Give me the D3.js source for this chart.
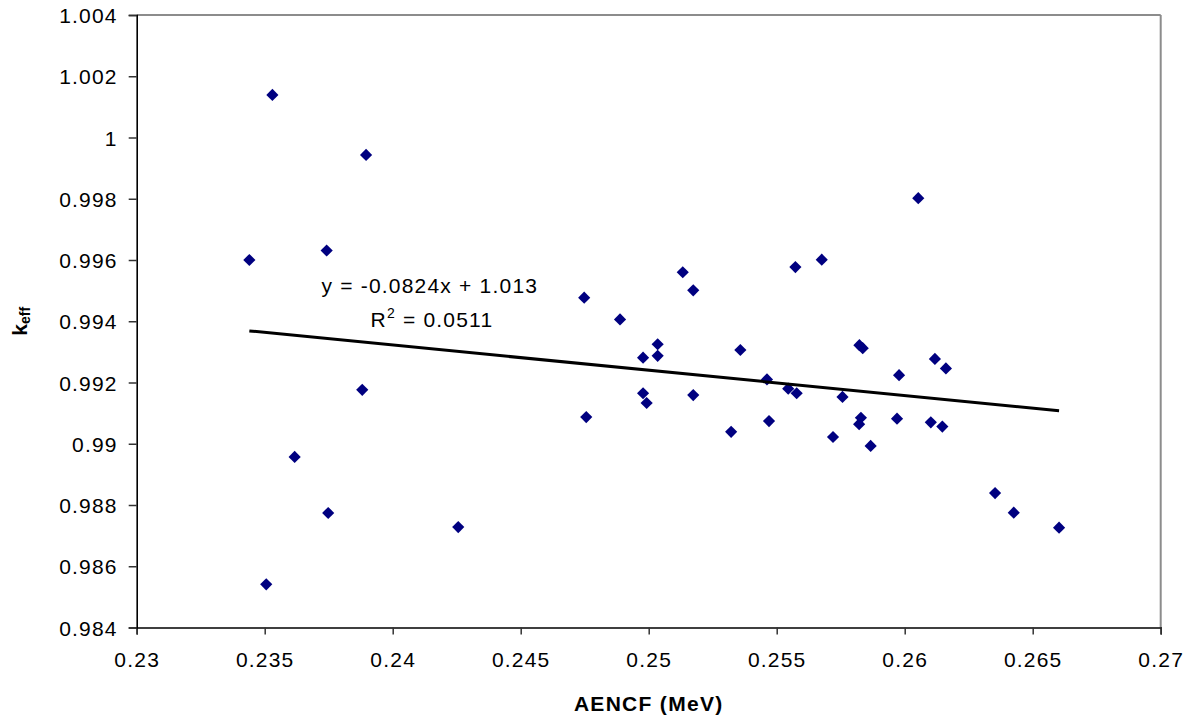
<!DOCTYPE html>
<html>
<head>
<meta charset="utf-8">
<script src="https://cdn.jsdelivr.net/npm/d3@7"></script>
<style>
  html, body { margin: 0; padding: 0; background: #fff; }
  svg { display: block; font-family: Arial, "Liberation Sans", sans-serif; }
  .tick text { font-size: 21px; letter-spacing: 1.2px; fill: #000; }
</style>
</head>
<body>
<svg id="chart" width="1193" height="721"></svg>
<script>
// AENCF (MeV)
const aencf = [
  0.23530, 0.23896, 0.23440, 0.23742, 0.23881, 0.23617, 0.23748, 0.24256, 0.23506,
  0.24748, 0.24888, 0.25133, 0.25174, 0.25035, 0.24978, 0.25035, 0.25358, 0.25462,
  0.24978, 0.24992, 0.25174, 0.24756, 0.25322, 0.25470, 0.26053, 0.25573, 0.25676,
  0.25823, 0.25836, 0.26118, 0.26161, 0.25978, 0.25545, 0.25578, 0.25757, 0.25829,
  0.25822, 0.25970, 0.26102, 0.26147, 0.25720, 0.25867, 0.26353, 0.26426, 0.26603
];
// k_eff
const keff = [
  1.00139, 0.99943, 0.99600, 0.99631, 0.99176, 0.98957, 0.98774, 0.98728, 0.98541,
  0.99477, 0.99406, 0.99560, 0.99501, 0.99325, 0.99281, 0.99287, 0.99306, 0.99210,
  0.99165, 0.99133, 0.99159, 0.99087, 0.99039, 0.99074, 0.99802, 0.99577, 0.99601,
  0.99322, 0.99312, 0.99277, 0.99246, 0.99224, 0.99180, 0.99165, 0.99153, 0.99085,
  0.99064, 0.99082, 0.99070, 0.99056, 0.99022, 0.98993, 0.98839, 0.98775, 0.98726
];
const xTicks = [0.23, 0.235, 0.24, 0.245, 0.25, 0.255, 0.26, 0.265, 0.27];
const yTicks = [0.984, 0.986, 0.988, 0.99, 0.992, 0.994, 0.996, 0.998, 1, 1.002, 1.004];
const trendSlope = -0.0824;
const trendIntercept = 1.013;
const eqText = "y = -0.0824x + 1.013";
const r2Value = "0.0511";

const svg = d3.select("#chart");
const m = { left: 136.7, top: 15, right: 1193 - 1160.7, bottom: 721 - 627.5 };
const W = 1193 - m.left - m.right;
const H = 721 - m.top - m.bottom;

const x = d3.scaleLinear().domain([0.23, 0.27]).range([0, W]);
const y = d3.scaleLinear().domain([0.984, 1.004]).range([H, 0]);

const g = svg.append("g").attr("transform", `translate(${m.left},${m.top})`);

// top and right frame (grey)
g.append("line").attr("x1", 0).attr("x2", W).attr("y1", 0).attr("y2", 0)
  .attr("stroke", "#8c8c8c").attr("stroke-width", 2);
g.append("line").attr("x1", W).attr("x2", W).attr("y1", 0).attr("y2", H)
  .attr("stroke", "#8c8c8c").attr("stroke-width", 2);

// axes
const xAxis = g.append("g").attr("transform", `translate(0,${H})`)
  .call(d3.axisBottom(x).tickValues(xTicks).tickFormat(d => String(+d.toFixed(3))).tickSize(7).tickPadding(18));
const yAxis = g.append("g")
  .call(d3.axisLeft(y).tickValues(yTicks).tickFormat(d => String(+d.toFixed(3))).tickSize(8).tickPadding(11));
[xAxis, yAxis].forEach(a => {
  a.select(".domain").attr("stroke", "#000").attr("stroke-width", 1.6);
  a.selectAll(".tick line").attr("stroke", "#333").attr("stroke-width", 1.5);
  a.selectAll(".tick text").attr("font-family", "Arial, 'Liberation Sans', sans-serif");
});
yAxis.selectAll(".tick text").attr("dy", "0.36em");

// data points (diamonds)
const pts = aencf.map((v, i) => ({ x: v, y: keff[i] }));
const sym = d3.symbol().type(d3.symbolSquare).size(74);
g.append("g").selectAll("path").data(pts).join("path")
  .attr("d", sym)
  .attr("transform", d => `translate(${x(d.x)},${y(d.y)}) rotate(45)`)
  .attr("fill", "#000080");

// trendline
const xMin = d3.min(aencf), xMax = d3.max(aencf);
g.append("line")
  .attr("x1", x(xMin)).attr("y1", y(trendSlope * xMin + trendIntercept))
  .attr("x2", x(xMax)).attr("y2", y(trendSlope * xMax + trendIntercept))
  .attr("stroke", "#000").attr("stroke-width", 3);

// equation labels
svg.append("text").attr("x", 321.5).attr("y", 292.7)
  .attr("font-size", 21).attr("letter-spacing", "1.2px").text(eqText);
const r2 = svg.append("text").attr("x", 370.5).attr("y", 326.5)
  .attr("font-size", 21).attr("letter-spacing", "1.2px");
r2.append("tspan").text("R");
r2.append("tspan").attr("font-size", 14).attr("dy", -9).text("2");
r2.append("tspan").attr("dy", 9).text(" = " + r2Value);

// axis titles
svg.append("text").attr("x", m.left + W / 2).attr("y", 710.7)
  .attr("text-anchor", "middle").attr("font-weight", "bold").attr("font-size", 21)
  .attr("letter-spacing", "1.3px").text("AENCF (MeV)");

const yt = svg.append("text")
  .attr("transform", `translate(26.5,${m.top + H / 2}) rotate(-90)`)
  .attr("text-anchor", "middle").attr("font-weight", "bold").attr("font-size", 21);
yt.append("tspan").text("k");
yt.append("tspan").attr("font-size", 14).attr("dy", 3).text("eff");
</script>
</body>
</html>
